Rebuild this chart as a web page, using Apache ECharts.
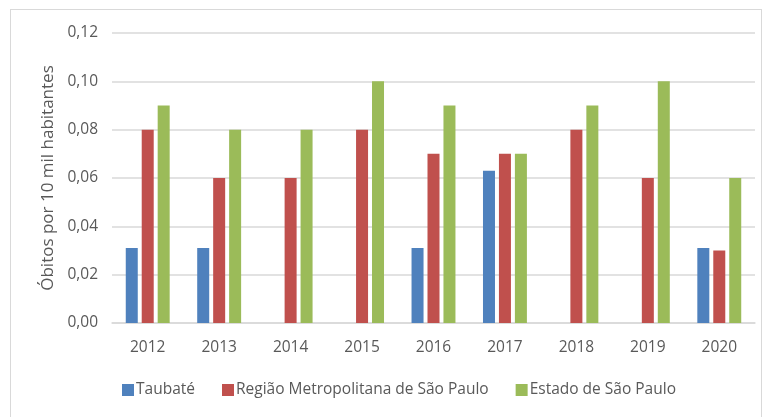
<!DOCTYPE html>
<html>
<head>
<meta charset="utf-8">
<script src="https://cdn.jsdelivr.net/npm/echarts@6/dist/echarts.min.js"></script>
<style>
  html, body { margin: 0; padding: 0; background: #fff; }
  #chart { width: 764px; height: 417px; }
  #frame { position: absolute; left: 10px; top: 9px; width: 752px; height: 420px; border: 1px solid #d9d9d9; box-sizing: border-box; pointer-events: none; }
</style>
</head>
<body>
<div id="chart"></div>
<div id="frame"></div>
<script>
// dados
const anos = ['2012', '2013', '2014', '2015', '2016', '2017', '2018', '2019', '2020'];
const taubate = [0.031, 0.031, 0, 0, 0.031, 0.063, 0, 0, 0.031];
const rmsp = [0.08, 0.06, 0.06, 0.08, 0.07, 0.07, 0.08, 0.06, 0.03];
const estado = [0.09, 0.08, 0.08, 0.10, 0.09, 0.07, 0.09, 0.10, 0.06];
const nomes = ['Taubaté', 'Região Metropolitana de São Paulo', 'Estado de São Paulo'];
const cores = ['#4f81bd', '#c0504d', '#9bbb59'];

const fonte = 'Open Sans, Liberation Sans, sans-serif';
const chart = echarts.init(document.getElementById('chart'));

const serie = (name, data, color) => ({
  name, type: 'bar', data,
  barWidth: 12, barGap: '33%',
  itemStyle: { color }
});

chart.setOption({
  animation: false,
  color: cores,
  grid: { left: 112, right: 9, top: 33, bottom: 94 },
  legend: {
    bottom: 14, left: 117,
    itemWidth: 12, itemHeight: 12, itemGap: 27,
    icon: 'rect',
    textStyle: { fontFamily: fonte, fontSize: 15.5, color: '#595959', padding: [0, 0, 0, -3] },
    data: nomes
  },
  xAxis: {
    type: 'category', data: anos,
    axisLine: { lineStyle: { color: '#d9d9d9', width: 1.5 } },
    axisTick: { show: false },
    axisLabel: { fontFamily: fonte, fontSize: 15.5, color: '#595959', margin: 17 }
  },
  yAxis: {
    type: 'value', min: 0, max: 0.12, interval: 0.02,
    name: 'Óbitos por 10 mil habitantes',
    nameLocation: 'middle', nameGap: 54,
    nameTextStyle: { fontFamily: fonte, fontSize: 17, color: '#595959' },
    axisLabel: {
      fontFamily: fonte, fontSize: 15.5, color: '#595959', margin: 14,
      formatter: v => v.toFixed(2).replace('.', ',')
    },
    splitLine: { lineStyle: { color: '#d9d9d9', width: 1.5 } }
  },
  series: [
    serie(nomes[0], taubate, cores[0]),
    serie(nomes[1], rmsp, cores[1]),
    serie(nomes[2], estado, cores[2])
  ]
});
</script>
</body>
</html>
